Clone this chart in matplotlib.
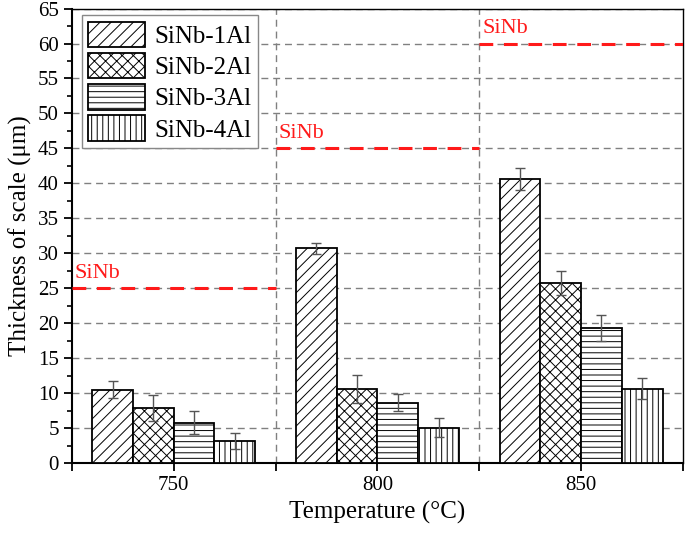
import matplotlib
matplotlib.use("Agg")
import matplotlib.pyplot as plt
import numpy as np

plt.rcParams['font.family'] = ['Liberation Serif', 'DejaVu Serif']
plt.rcParams['hatch.linewidth'] = 0.7
plt.rcParams['hatch.color'] = '#333333'

temperatures = ['750', '800', '850']
series_names = ['SiNb-1Al', 'SiNb-2Al', 'SiNb-3Al', 'SiNb-4Al']
values = {
    'SiNb-1Al': [10.5, 30.7, 40.6],
    'SiNb-2Al': [7.9, 10.65, 25.8],
    'SiNb-3Al': [5.8, 8.65, 19.3],
    'SiNb-4Al': [3.15, 5.1, 10.65],
}
errors = {
    'SiNb-1Al': [1.25, 0.8, 1.6],
    'SiNb-2Al': [1.9, 2.0, 1.7],
    'SiNb-3Al': [1.7, 1.25, 1.9],
    'SiNb-4Al': [1.1, 1.3, 1.5],
}
hatches = ['///', 'xxx', '---', '|||']
sinb_values = [25, 45, 60]
sinb_label = 'SiNb'

fig = plt.figure(figsize=(6.85, 5.33), dpi=100)
ax = fig.add_axes([0.105, 0.131, 0.892, 0.853])

x = np.arange(len(temperatures))
width = 0.2
for i, name in enumerate(series_names):
    pos = x + (i - 1.5) * width
    ax.bar(pos, values[name], width, color='white', edgecolor='black',
           linewidth=1.3, hatch=hatches[i], label=name, zorder=3)
    ax.errorbar(pos, values[name], yerr=errors[name], fmt='none',
                ecolor='#555555', elinewidth=1.0, capsize=3.5, capthick=1.0, zorder=4)

for i, v in enumerate(sinb_values):
    ax.plot([i - 0.5, i + 0.5], [v, v], color='#ff1a1a', lw=2.2,
            dashes=(4.5, 3.5), zorder=5, solid_capstyle='butt')
    ax.text(i - 0.485, v + 0.8, sinb_label, color='#ff1a1a', fontsize=16,
            ha='left', va='bottom', zorder=5)

ax.set_xlim(-0.5, 2.5)
ax.set_ylim(0, 65)
ax.set_yticks(np.arange(0, 66, 5))
ax.set_yticks(np.arange(2.5, 65, 5), minor=True)
ax.set_xticks(x)
ax.set_xticklabels(temperatures)
ax.set_xticks([-0.5, 0.5, 1.5, 2.5], minor=True)
ax.tick_params(axis='both', which='major', labelsize=15, direction='out',
               length=6, width=1.3)
ax.tick_params(axis='y', which='minor', direction='out', length=3.5, width=1.2)
ax.tick_params(axis='x', which='minor', direction='out', length=6, width=1.3)

ax.yaxis.grid(True, which='major', color='#808080', linestyle=(0, (5, 3.5)), lw=1.0, zorder=0)
for b in [0.5, 1.5]:
    ax.axvline(b, color='#808080', linestyle=(0, (5, 3.5)), lw=1.0, zorder=0)

for s in ['left', 'bottom']:
    ax.spines[s].set_linewidth(1.5)
for s in ['top', 'right']:
    ax.spines[s].set_linewidth(1.0)

ax.set_xlabel('Temperature (°C)', fontsize=18, labelpad=4)
ax.set_ylabel('Thickness of scale (μm)', fontsize=18, labelpad=4)

leg = ax.legend(loc='upper left', fontsize=18, handlelength=2.3, handleheight=1.2,
                labelspacing=0.2, handletextpad=0.35, borderpad=0.25,
                fancybox=False, framealpha=1, edgecolor='#888888',
                bbox_to_anchor=(0.016, 0.985), borderaxespad=0.0)
leg.get_frame().set_linewidth(1.0)
leg.set_zorder(6)

fig.savefig('out.png', dpi=100)
